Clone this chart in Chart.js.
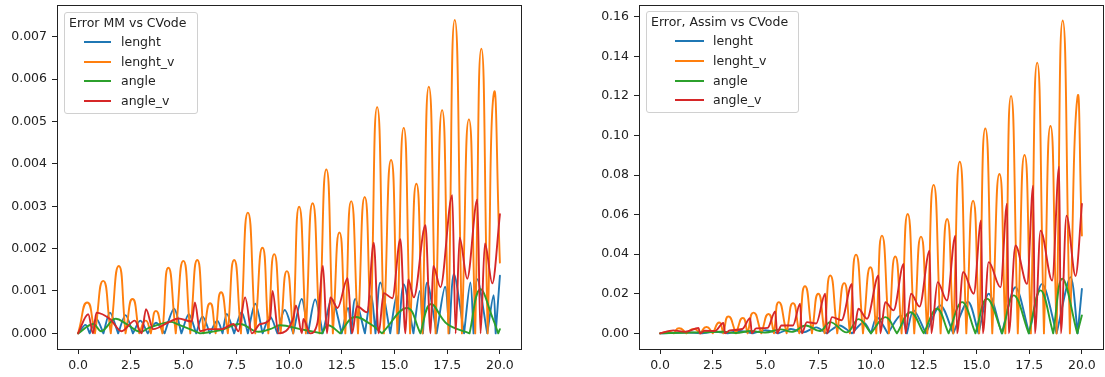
<!DOCTYPE html>
<html lang="en">
<head>
<meta charset="UTF-8">
<title>Error MM / Assim vs CVode</title>
<script src="https://cdn.jsdelivr.net/npm/chart.js"></script>
<style>
    body { margin: 0; background: #fff; width: 1105px; height: 377px; position: relative; overflow: hidden;
           font-family: "DejaVu Sans", sans-serif; font-size: 12.5px; color: #222; }
    canvas { position: absolute; top: 0; }
    .legenda { position: absolute; border: 1px solid #d0d0d0; border-radius: 3px; background: rgba(255,255,255,0.85); }
    .legenda .titulo { position: absolute; left: 4px; top: 2px; white-space: nowrap; }
    .legenda .item { position: absolute; white-space: nowrap; }
    .legenda .traco { position: absolute; height: 2px; top: 7px; }
    .legenda .txt { position: absolute; top: 0; }
</style>
</head>
<body>
<canvas id="grafico_mm"></canvas>
<canvas id="grafico_assim"></canvas>
<div class="legenda" id="leg_mm"></div>
<div class="legenda" id="leg_assim"></div>
<script>
    // series names and colours (matplotlib tab10)
    const nomes = ["lenght", "lenght_v", "angle", "angle_v"];
    const cores = ["#1f77b4", "#ff7f0e", "#2ca02c", "#d62728"];
    const xTicks = [0, 2.5, 5, 7.5, 10, 12.5, 15, 17.5, 20];
    const yTicksMM = [0, 0.001, 0.002, 0.003, 0.004, 0.005, 0.006, 0.007];
    const yTicksAssim = [0, 0.02, 0.04, 0.06, 0.08, 0.10, 0.12, 0.14, 0.16];

    // ---- Error MM vs CVode ----
    const mmLenght = [[0,0],[0.35,0.0002],[0.55,0],[0.87,0.00034],[1.2,0],[1.51,0.00049],[1.9,0],[2.25,0.00043],[2.6,0],[2.95,0.0003],[3.3,0],[3.7,0.00025],[4.1,0],[4.55,0.00058],[4.9,0],[5.25,0.00045],[5.6,0],[5.9,0.0004],[6.25,0],[6.6,0.0003],[6.85,0],[7.05,0.00046],[7.4,0],[7.75,0.0005],[8.05,0],[8.4,0.0007],[8.75,0],[9.1,0.0004],[9.45,0],[9.8,0.00055],[10.2,0],[10.6,0.00081],[10.9,0],[11.24,0.0008],[11.6,0],[12.04,0.0008],[12.5,0],[12.8,0.0006],[12.95,0],[13.14,0.00081],[13.6,0],[13.9,0.0009],[14.1,0],[14.33,0.0012],[14.8,0],[15.1,0.0009],[15.2,0],[15.44,0.00116],[15.9,0],[16.2,0.001],[16.35,0],[16.55,0.0012],[17.0,0],[17.4,0.0011],[17.6,0],[17.82,0.0014],[18.3,0],[18.6,0.0012],[18.75,0],[18.93,0.00128],[19.4,0],[19.7,0.0009],[19.8,0],[20,0.00136]];
    const mmLenghtV = [[0,0],[0.43,0.00073],[0.8,0],[1.19,0.00124],[1.55,0],[1.93,0.00159],[2.25,0],[2.58,0.00081],[2.9,0],[3.2,0.0003],[3.45,0],[3.69,0.00053],[4.0,0],[4.28,0.00155],[4.63,0],[4.99,0.00171],[5.32,0],[5.65,0.00173],[5.95,0],[6.26,0.00071],[6.52,0],[6.78,0.00097],[7.1,0],[7.40,0.00173],[7.72,0],[8.05,0.00285],[8.4,0],[8.74,0.00202],[9.02,0],[9.30,0.00187],[9.6,0],[9.90,0.00147],[10.2,0],[10.48,0.00299],[10.8,0],[11.12,0.00307],[11.45,0],[11.77,0.00387],[12.08,0],[12.39,0.00238],[12.67,0],[12.95,0.00312],[13.27,0],[13.59,0.00322],[13.88,0],[14.18,0.00534],[14.5,0],[14.84,0.00409],[15.14,0],[15.44,0.00485],[15.74,0],[16.04,0.00353],[16.33,0],[16.63,0.00582],[16.95,0],[17.26,0.00527],[17.56,0],[17.86,0.0074],[18.2,0],[18.53,0.00505],[18.83,0],[19.12,0.00672],[19.42,0],[19.71,0.00566],[20,0.00167]];
    const mmAngle = [[0,0],[0.71,0.00022],[1.11,0.00005],[1.74,0.00034],[2.3,0.00022],[2.93,0.00004],[3.4,0.00014],[4.36,0.00027],[4.7,0.00022],[5.78,0],[6.73,0.00007],[7.68,0.00022],[8.47,0.00004],[9.1,0.0001],[9.58,0.00019],[10.53,0.0001],[11.56,0],[11.85,0.00019],[12.43,0],[13.06,0.00038],[13.86,0.00022],[14.41,0],[15.6,0.0006],[16.23,0],[16.71,0.00069],[17.5,0.00022],[18.56,0],[19.05,0.00104],[19.68,0.00033],[19.92,0],[20,0.0001]];
    const mmAngleV = [[0,0],[0.48,0.00045],[0.71,0],[0.87,0.00049],[1.51,0.00034],[2.06,0.00005],[2.69,0.0003],[3.01,0],[3.22,0.00057],[3.56,0.0001],[4.36,0.00028],[4.75,0.00035],[5.39,0.00028],[5.54,0.00073],[5.78,0.00005],[6.2,0.0001],[6.8,0.0001],[7.36,0.00022],[7.6,0.00005],[7.92,0.00085],[8.24,0],[8.63,0.00022],[9.1,0.00034],[9.22,0.001],[9.5,0],[10.21,0.00037],[10.33,0.00066],[10.61,0],[10.68,0.00034],[11.0,0],[11.35,0.00025],[11.61,0.00159],[11.8,0],[11.96,0.00085],[12.3,0.0006],[12.78,0.0013],[12.99,0],[13.22,0.00064],[13.7,0.0005],[14.02,0.00214],[14.25,0],[14.49,0.00095],[14.9,0.00083],[15.28,0.00222],[15.52,0],[15.65,0.00127],[15.92,0.00085],[16.47,0.00255],[16.71,0],[16.84,0.00159],[17.18,0.00109],[17.74,0.00326],[17.9,0],[18.09,0.00226],[18.45,0.00129],[18.93,0.00316],[19.08,0],[19.29,0.00212],[19.64,0.00118],[20,0.00281]];

    // ---- Error, Assim vs CVode ----
    const assimLenght = [[0,0],[1.3,0.0004],[2.0,0],[2.6,0.0008],[3.2,0],[3.8,0.0012],[4.4,0],[5.0,0.0016],[5.6,0],[6.2,0.0022],[6.8,0.0005],[7.4,0.003],[7.9,0],[8.5,0.004],[9.1,0],[9.65,0.0055],[10.0,0],[10.28,0.0082],[10.8,0],[11.4,0.009],[11.7,0],[12.02,0.0116],[12.6,0],[13.29,0.0141],[13.9,0],[14.6,0.016],[15.1,0],[15.58,0.02],[16.2,0],[16.85,0.0233],[17.5,0],[18.11,0.025],[18.8,0],[19.46,0.0284],[19.8,0],[20,0.0225]];
    const assimLenghtV = [[0,0],[0.4,0.0008],[0.65,0],[0.9,0.0026],[1.25,0],[1.6,0.0022],[1.9,0],[2.2,0.0032],[2.5,0],[2.8,0.0055],[3.0,0],[3.24,0.0085],[3.6,0],[3.92,0.0078],[4.15,0],[4.43,0.0105],[4.8,0],[5.14,0.0098],[5.4,0],[5.63,0.0158],[6.0,0],[6.3,0.0153],[6.6,0],[6.87,0.0238],[7.2,0],[7.5,0.02],[7.8,0],[8.07,0.0292],[8.4,0],[8.73,0.0254],[9.0,0],[9.29,0.0398],[9.62,0],[9.97,0.0334],[10.25,0],[10.52,0.0494],[10.85,0],[11.15,0.0388],[11.45,0],[11.74,0.0603],[12.05,0],[12.37,0.0489],[12.67,0],[12.97,0.075],[13.3,0],[13.61,0.0578],[13.9,0],[14.21,0.0867],[14.52,0],[14.84,0.067],[15.13,0],[15.42,0.1035],[15.75,0],[16.09,0.0805],[16.37,0],[16.64,0.12],[16.96,0],[17.28,0.0901],[17.58,0],[17.88,0.1368],[18.2,0],[18.51,0.1048],[18.8,0],[19.09,0.1581],[19.43,0],[19.78,0.1186],[20,0.0494]];
    const assimAngle = [[0,0],[1,0.0003],[2,0.0005],[3,0.0008],[3.6,0.0002],[4.3,0.0012],[5.0,0.0004],[5.7,0.002],[6.3,0.0008],[6.9,0.004],[7.6,0.0012],[8.07,0.0057],[8.86,0.0005],[9.41,0.0072],[10.0,0],[10.68,0.0082],[11.23,0],[11.87,0.0107],[12.5,0],[13.13,0.0124],[13.68,0],[14.32,0.0158],[14.95,0],[15.5,0.0175],[16.22,0],[16.77,0.0192],[17.48,0],[18.04,0.0217],[18.64,0],[19.07,0.0276],[19.78,0],[20,0.0091]];
    const assimAngleV = [[0,0],[0.63,0.0015],[1.2,0.0008],[1.82,0.0027],[1.9,0],[2.1,0.0013],[2.6,0.0012],[3.0,0.0052],[3.08,0],[3.3,0.0015],[3.9,0.0022],[4.27,0.0077],[4.35,0],[4.55,0.0025],[5.1,0.0028],[5.46,0.0111],[5.55,0],[5.75,0.004],[6.3,0.004],[6.64,0.015],[6.72,0],[6.96,0.0057],[7.4,0.005],[7.83,0.02],[7.92,0],[8.15,0.0082],[8.6,0.0066],[9.1,0.025],[9.18,0],[9.4,0.0124],[9.81,0.0074],[10.36,0.0292],[10.44,0],[10.68,0.0158],[11.07,0.0116],[11.55,0.0351],[11.63,0],[11.9,0.02],[12.3,0.0135],[12.78,0.0418],[12.86,0],[13.16,0.0259],[13.6,0.0166],[14.0,0.0494],[14.08,0],[14.37,0.031],[14.87,0.02],[15.22,0.057],[15.3,0],[15.58,0.036],[16.14,0.0233],[16.45,0.0655],[16.53,0],[16.85,0.0444],[17.4,0.025],[17.69,0.0746],[17.77,0],[18.04,0.0519],[18.59,0.0267],[18.92,0.0842],[19.0,0],[19.27,0.0595],[19.7,0.029],[20,0.0654]];

    // line shape per series: "cusp" = rounded humps meeting in sharp V at zero
    const formas = [
        {modo: "cusp", tensao: 0.3},
        {modo: "cusp", tensao: 0.6},
        {modo: "cusp", tensao: 0.4},
        {modo: "monotone"}
    ];

    // moldura (caixa dos eixos, estilo matplotlib)
    const moldura = {
        id: "moldura",
        afterDraw(chart) {
            const a = chart.chartArea, ctx = chart.ctx;
            ctx.save();
            ctx.strokeStyle = "#222";
            ctx.lineWidth = 1;
            ctx.strokeRect(Math.round(a.left) + 0.5, Math.round(a.top) + 0.5, Math.round(a.right - a.left), Math.round(a.bottom - a.top));
            ctx.restore();
        }
    };

    // zero points are repeated so the bezier gets a sharp corner there
    function pontos(arr, cusp) {
        const out = [];
        arr.forEach((p, i) => {
            out.push({x: p[0], y: p[1]});
            if (cusp && p[1] === 0 && i > 0 && i < arr.length - 1) out.push({x: p[0], y: p[1]});
        });
        return out;
    }

    function showGraph(id, left, series, ymin, ymax, yticks, dec) {
        const cv = document.getElementById(id);
        cv.style.left = left + "px";
        cv.width = 530; cv.height = 377;
        cv.style.width = "530px"; cv.style.height = "377px";
        const fonte = {family: "DejaVu Sans", size: 12.5};
        const datasets = series.map((s, i) => {
            const f = formas[i];
            const ds = {
                label: nomes[i],
                data: pontos(s, f.modo === "cusp"),
                borderColor: cores[i],
                borderWidth: 1.9,
                borderJoinStyle: "round",
                borderCapStyle: "round",
                pointRadius: 0,
                fill: false,
                order: 3 - i
            };
            if (f.modo === "monotone") ds.cubicInterpolationMode = "monotone";
            else ds.tension = f.tensao;
            return ds;
        });
        return new Chart(cv, {
            type: "line",
            data: {datasets},
            plugins: [moldura],
            options: {
                responsive: false,
                animation: false,
                events: [],
                layout: {padding: {top: 5, right: 9, left: 0, bottom: 0}},
                plugins: {legend: {display: false}, tooltip: {enabled: false}},
                scales: {
                    x: {
                        type: "linear", min: -1, max: 21,
                        afterBuildTicks: ax => { ax.ticks = xTicks.map(v => ({value: v})); },
                        afterFit: ax => { ax.height = 28; ax.paddingLeft = 0; ax.paddingRight = 0; },
                        ticks: {callback: v => v.toFixed(1), font: fonte, color: "#222", padding: 4, maxRotation: 0, autoSkip: false},
                        grid: {drawOnChartArea: false, drawTicks: true, tickLength: 5, color: "#222"},
                        border: {display: true, color: "#222"}
                    },
                    y: {
                        type: "linear", min: ymin, max: ymax,
                        afterBuildTicks: ax => { ax.ticks = yticks.map(v => ({value: v})); },
                        afterFit: ax => { ax.width = 57; ax.paddingTop = 0; ax.paddingBottom = 0; },
                        ticks: {callback: v => v.toFixed(dec), font: fonte, color: "#222", padding: 5, autoSkip: false},
                        grid: {drawOnChartArea: false, drawTicks: true, tickLength: 5, color: "#222"},
                        border: {display: true, color: "#222"}
                    }
                }
            }
        });
    }

    function legenda(id, left, top, w, titulo, hx0, hx1, tx, ys) {
        const el = document.getElementById(id);
        el.style.left = left + "px"; el.style.top = top + "px";
        el.style.width = w + "px"; el.style.height = "100px";
        let html = '<div class="titulo">' + titulo + '</div>';
        nomes.forEach((n, i) => {
            html += '<div class="item" style="top:' + (ys[i] - 8) + 'px;left:0">' +
                '<span class="traco" style="left:' + hx0 + 'px;width:' + (hx1 - hx0) + 'px;background:' + cores[i] + '"></span>' +
                '<span class="txt" style="left:' + tx + 'px">' + n + '</span></div>';
        });
        el.innerHTML = html;
    }

    showGraph("grafico_mm", 0, [mmLenght, mmLenghtV, mmAngle, mmAngleV], -0.000369, 0.00775, yTicksMM, 3);
    showGraph("grafico_assim", 582, [assimLenght, assimLenghtV, assimAngle, assimAngleV], -0.0079, 0.1659, yTicksAssim, 2);

    legenda("leg_mm", 64, 12, 132, "Error MM vs CVode", 19, 46, 56, [29, 49, 68, 88]);
    legenda("leg_assim", 646, 11, 151, "Error, Assim vs CVode", 28, 57, 66, [29, 49, 69, 88]);
</script>
</body>
</html>
